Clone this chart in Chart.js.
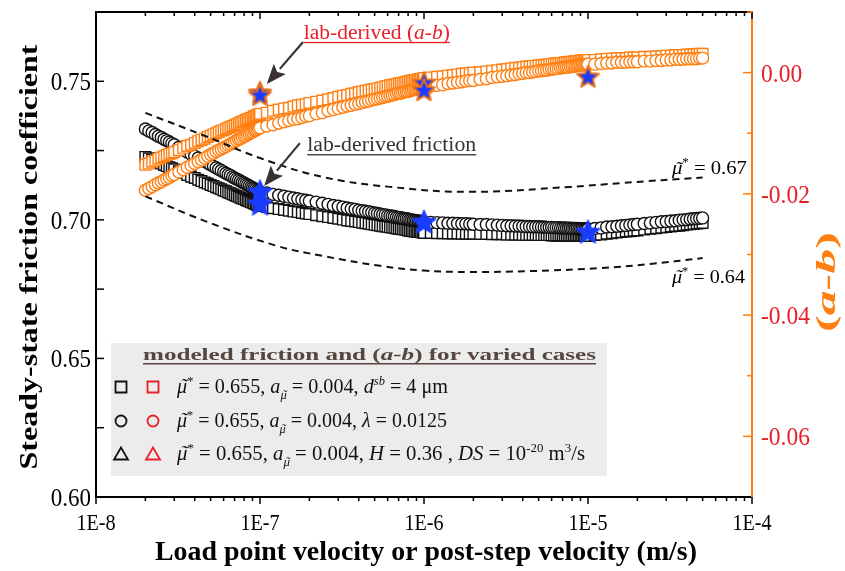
<!DOCTYPE html>
<html lang="en">
<head>
<meta charset="UTF-8">
<title>Steady-state friction and (a-b)</title>
<style>
  html, body { margin: 0; padding: 0; background: #fff; }
  #myChart { display: block; }
</style>
</head>
<body>
<canvas id="myChart" width="845" height="571"></canvas>
<script src="https://cdn.jsdelivr.net/npm/chart.js"></script>
<script>
// load point / post-step velocity (m/s), shared by the four modeled series
const velocity = [
  2e-8,2.1e-8,2.2e-8,2.3e-8,2.4e-8,2.5e-8,2.6e-8,2.7e-8,2.8e-8,2.9e-8,3e-8,3.2e-8,3.4e-8,3.6e-8,3.8e-8,4e-8,4.2e-8,4.4e-8,4.6e-8,4.8e-8,
  5e-8,5.2e-8,5.4e-8,5.6e-8,5.8e-8,6e-8,6.2e-8,6.4e-8,6.6e-8,6.8e-8,7e-8,7.2e-8,7.4e-8,7.6e-8,7.8e-8,8e-8,8.2e-8,8.4e-8,8.6e-8,8.8e-8,
  9e-8,9.2e-8,9.4e-8,9.6e-8,9.8e-8,1e-7,
  1.1e-7,1.2e-7,1.3e-7,1.4e-7,1.5e-7,1.6e-7,1.7e-7,1.8e-7,1.9e-7,2e-7,2.2e-7,2.4e-7,2.6e-7,2.8e-7,3e-7,3.2e-7,3.4e-7,3.6e-7,3.8e-7,4e-7,
  4.2e-7,4.4e-7,4.6e-7,4.8e-7,5e-7,5.2e-7,5.4e-7,5.6e-7,5.8e-7,6e-7,6.2e-7,6.4e-7,6.6e-7,6.8e-7,7e-7,7.2e-7,7.4e-7,7.6e-7,7.8e-7,8e-7,
  8.2e-7,8.4e-7,8.6e-7,8.8e-7,9e-7,9.2e-7,9.4e-7,9.6e-7,9.8e-7,1e-6,
  1.1e-6,1.2e-6,1.3e-6,1.4e-6,1.5e-6,1.6e-6,1.7e-6,1.8e-6,1.9e-6,2e-6,2.2e-6,2.4e-6,2.6e-6,2.8e-6,3e-6,3.2e-6,3.4e-6,3.6e-6,3.8e-6,4e-6,
  4.2e-6,4.4e-6,4.6e-6,4.8e-6,5e-6,5.2e-6,5.4e-6,5.6e-6,5.8e-6,6e-6,6.2e-6,6.4e-6,6.6e-6,6.8e-6,7e-6,7.2e-6,7.4e-6,7.6e-6,7.8e-6,8e-6,
  8.2e-6,8.4e-6,8.6e-6,8.8e-6,9e-6,9.2e-6,9.4e-6,9.6e-6,9.8e-6,1e-5,
  1.1e-5,1.2e-5,1.3e-5,1.4e-5,1.5e-5,1.6e-5,1.7e-5,1.8e-5,1.9e-5,2e-5,2.2e-5,2.4e-5,2.6e-5,2.8e-5,3e-5,3.2e-5,3.4e-5,3.6e-5,3.8e-5,4e-5,
  4.2e-5,4.4e-5,4.6e-5,4.8e-5,5e-5
];

// steady-state friction, d_sb = 4 um case (black squares)
const frictionDsb = [
  .7227,.7222,.7217,.7212,.7207,.7203,.7198,.7194,.7190,.7186,.7182,.7175,.7169,.7162,.7156,.7151,.7145,.7140,.7135,.7131,
  .7126,.7122,.7118,.7114,.7110,.7106,.7103,.7099,.7096,.7092,.7089,.7086,.7083,.7080,.7077,.7075,.7072,.7069,.7067,.7064,
  .7062,.7059,.7057,.7054,.7052,.7050,
  .7046,.7042,.7039,.7036,.7033,.7030,.7028,.7025,.7023,.7021,.7017,.7013,.7010,.7007,.7004,.7001,.6998,.6996,.6994,.6992,
  .6990,.6988,.6986,.6984,.6982,.6981,.6979,.6977,.6976,.6975,.6973,.6972,.6971,.6969,.6968,.6967,.6966,.6965,.6964,.6962,
  .6961,.6960,.6959,.6958,.6957,.6957,.6956,.6955,.6954,.6953,
  .6953,.6952,.6952,.6951,.6951,.6951,.6950,.6950,.6950,.6950,.6949,.6949,.6948,.6948,.6948,.6947,.6947,.6947,.6947,.6946,
  .6946,.6946,.6946,.6946,.6945,.6945,.6945,.6945,.6945,.6944,.6944,.6944,.6944,.6944,.6944,.6944,.6943,.6943,.6943,.6943,
  .6943,.6943,.6943,.6943,.6942,.6942,.6942,.6942,.6942,.6942,
  .6945,.6947,.6950,.6952,.6954,.6956,.6958,.6959,.6961,.6962,.6965,.6968,.6970,.6972,.6974,.6976,.6978,.6979,.6981,.6983,
  .6984,.6985,.6987,.6988,.6989
];

// steady-state friction, lambda = 0.0125 case (black circles)
const frictionLambda = [
  .7328,.7321,.7315,.7308,.7302,.7297,.7291,.7286,.7281,.7276,.7271,.7262,.7253,.7245,.7237,.7230,.7223,.7217,.7211,.7205,
  .7199,.7193,.7188,.7183,.7178,.7173,.7168,.7164,.7160,.7155,.7151,.7147,.7144,.7140,.7136,.7133,.7129,.7126,.7122,.7119,
  .7116,.7113,.7110,.7107,.7104,.7101,
  .7097,.7092,.7089,.7085,.7082,.7079,.7076,.7073,.7071,.7068,.7064,.7060,.7056,.7052,.7049,.7046,.7043,.7040,.7038,.7035,
  .7033,.7031,.7029,.7027,.7025,.7023,.7021,.7019,.7018,.7016,.7015,.7013,.7012,.7010,.7009,.7008,.7006,.7005,.7004,.7003,
  .7001,.7000,.6999,.6998,.6997,.6996,.6995,.6994,.6993,.6992,
  .6991,.6990,.6989,.6988,.6988,.6987,.6986,.6986,.6985,.6984,.6983,.6983,.6982,.6981,.6980,.6979,.6979,.6978,.6978,.6977,
  .6976,.6976,.6975,.6975,.6975,.6974,.6974,.6973,.6973,.6973,.6972,.6972,.6972,.6971,.6971,.6971,.6970,.6970,.6970,.6969,
  .6969,.6969,.6969,.6968,.6968,.6968,.6968,.6967,.6967,.6967,
  .6969,.6971,.6974,.6975,.6977,.6979,.6980,.6982,.6983,.6984,.6987,.6989,.6991,.6993,.6994,.6996,.6997,.6999,.7000,.7001,
  .7003,.7004,.7005,.7006,.7007
];

// (a-b), d_sb = 4 um case (orange squares)
const abDsb = [
  -.0152,-.0150,-.0147,-.0145,-.0142,-.0140,-.0138,-.0136,-.0134,-.0133,-.0131,-.0128,-.0124,-.0121,-.0119,-.0116,-.0113,-.0111,-.0109,-.0106,
  -.0104,-.0102,-.0100,-.0098,-.0096,-.0095,-.0093,-.0091,-.0090,-.0088,-.0087,-.0085,-.0084,-.0082,-.0081,-.0080,-.0078,-.0077,-.0076,-.0075,
  -.0074,-.0072,-.0071,-.0070,-.0069,-.0068,
  -.0066,-.0063,-.0061,-.0059,-.0058,-.0056,-.0054,-.0053,-.0052,-.0050,-.0048,-.0046,-.0044,-.0042,-.0040,-.0038,-.0037,-.0035,-.0034,-.0032,
  -.0031,-.0030,-.0029,-.0028,-.0027,-.0026,-.0025,-.0024,-.0023,-.0022,-.0021,-.0020,-.0020,-.0019,-.0018,-.0017,-.0017,-.0016,-.0015,-.0015,
  -.0014,-.0013,-.0013,-.0012,-.0012,-.0011,-.0011,-.0010,-.0010,-.0009,
  -.0008,-.0007,-.0006,-.0005,-.0004,-.0003,-.0002,-.0001,-.0001,.0000,.0001,.0002,.0003,.0004,.0005,.0006,.0007,.0008,.0008,.0009,
  .0010,.0010,.0011,.0011,.0012,.0012,.0013,.0013,.0014,.0014,.0015,.0015,.0016,.0016,.0016,.0017,.0017,.0017,.0018,.0018,
  .0018,.0019,.0019,.0019,.0020,.0020,.0020,.0020,.0021,.0021,
  .0021,.0022,.0023,.0023,.0024,.0024,.0024,.0025,.0025,.0025,.0026,.0026,.0027,.0027,.0028,.0028,.0029,.0029,.0029,.0030,
  .0030,.0030,.0030,.0031,.0031
];

// (a-b), lambda = 0.0125 case (orange circles)
const abLambda = [
  -.0194,-.0191,-.0188,-.0185,-.0182,-.0180,-.0177,-.0175,-.0173,-.0170,-.0168,-.0164,-.0160,-.0156,-.0153,-.0150,-.0147,-.0144,-.0141,-.0138,
  -.0135,-.0133,-.0130,-.0128,-.0126,-.0124,-.0122,-.0120,-.0118,-.0116,-.0114,-.0112,-.0110,-.0109,-.0107,-.0105,-.0104,-.0102,-.0101,-.0099,
  -.0098,-.0096,-.0095,-.0094,-.0092,-.0091,
  -.0088,-.0086,-.0083,-.0081,-.0079,-.0077,-.0076,-.0074,-.0072,-.0071,-.0068,-.0066,-.0063,-.0061,-.0059,-.0057,-.0055,-.0054,-.0052,-.0051,
  -.0049,-.0048,-.0047,-.0045,-.0044,-.0043,-.0042,-.0041,-.0040,-.0039,-.0038,-.0037,-.0036,-.0035,-.0034,-.0034,-.0033,-.0032,-.0031,-.0031,
  -.0030,-.0029,-.0028,-.0028,-.0027,-.0026,-.0026,-.0025,-.0025,-.0024,
  -.0022,-.0021,-.0020,-.0018,-.0017,-.0016,-.0015,-.0014,-.0013,-.0013,-.0011,-.0010,-.0008,-.0007,-.0006,-.0005,-.0004,-.0003,-.0002,-.0001,
  .0000,.0000,.0001,.0002,.0003,.0003,.0004,.0004,.0005,.0006,.0006,.0007,.0007,.0008,.0008,.0009,.0009,.0009,.0010,.0010,
  .0011,.0011,.0012,.0012,.0012,.0013,.0013,.0013,.0014,.0014,
  .0014,.0015,.0016,.0016,.0017,.0017,.0017,.0018,.0018,.0018,.0019,.0019,.0020,.0020,.0021,.0021,.0022,.0022,.0022,.0023,
  .0023,.0023,.0023,.0024,.0024
];

// dashed reference curves (mu* = 0.67 and mu* = 0.64)
const upperGuideVel = [2e-8, 4.8e-8, 1e-7, 2.4e-7, 6.2e-7, 1.9e-6, 7.8e-6, 1.6e-5, 5e-5];
const upperGuide = [0.7386, 0.7299, 0.7223, 0.7155, 0.7119, 0.7101, 0.7119, 0.7133, 0.7153];
const lowerGuideVel = [2e-8, 4.8e-8, 1.27e-7, 2.4e-7, 5.4e-7, 1e-6, 1.9e-6, 4.4e-6, 1.2e-5, 2.4e-5, 5e-5];
const lowerGuide = [0.7085, 0.6992, 0.6906, 0.6870, 0.6834, 0.6817, 0.6812, 0.6815, 0.6826, 0.6841, 0.6862];

// lab-derived values (blue stars)
const labVel = [1e-7, 1e-7, 1e-6, 1e-5];
const labFriction = [0.7101, 0.7057, 0.6992, 0.6956];
const labAbVel = [1e-7, 1e-7, 1e-6, 1e-6, 1e-5];
const labAb = [-0.0033, -0.0037, -0.0017, -0.0029, -0.0007];

// axis ticks
const xTickValues = [1e-8, 1e-7, 1e-6, 1e-5, 1e-4];
const xTickLabels = ['1E-8', '1E-7', '1E-6', '1E-5', '1E-4'];
const xMinorMult = [2, 3, 4, 5, 6, 7, 8, 9];
const leftTickValues = [0.60, 0.65, 0.70, 0.75];
const leftTickLabels = ['0.60', '0.65', '0.70', '0.75'];
const leftMinor = [0.625, 0.675, 0.725];
const rightTickValues = [0.00, -0.02, -0.04, -0.06];
const rightTickLabels = ['0.00', '-0.02', '-0.04', '-0.06'];
const rightMinor = [0.01, -0.01, -0.03, -0.05];

const SERIF = '"Liberation Serif", "Times New Roman", serif';
const ORANGE = '#ff7f10';
const RED = '#e8202a';
const BLUE = '#1a3cff';
const DARK = '#3a3232';

const pts = (xs, ys) => xs.map((v, i) => ({ x: v, y: ys[i] }));

function starImage(r, fill, stroke, lw) {
  const c = document.createElement('canvas');
  const s = Math.ceil(2 * r + lw + 2);
  c.width = s; c.height = s;
  const g = c.getContext('2d');
  g.translate(s / 2, s / 2 + r * 0.05);
  g.beginPath();
  for (let k = 0; k < 10; k++) {
    const rr = k % 2 ? r * 0.45 : r;
    const a = -Math.PI / 2 + k * Math.PI / 5;
    g.lineTo(rr * Math.cos(a), rr * Math.sin(a));
  }
  g.closePath();
  g.fillStyle = fill;
  g.fill();
  g.lineWidth = lw;
  g.lineJoin = 'round';
  g.strokeStyle = stroke;
  g.stroke();
  return c;
}

function line(ctx, x1, y1, x2, y2, color) {
  ctx.strokeStyle = color;
  ctx.beginPath();
  ctx.moveTo(x1, y1);
  ctx.lineTo(x2, y2);
  ctx.stroke();
}

// text made of pieces (italic, sup, sub, tilde accent), optionally squeezed to a width
function rich(ctx, parts, x, y, o) {
  ctx.save();
  const fontOf = p => {
    const sz = (p.sup || p.sub) ? o.size * 0.62 : o.size;
    return (p.i ? 'italic ' : '') + ((p.b || o.bold) ? 'bold ' : '') + sz + 'px ' + SERIF;
  };
  let total = 0;
  const ws = parts.map(p => {
    ctx.font = fontOf(p);
    const w = ctx.measureText(p.t).width;
    total += w;
    return w;
  });
  const k = o.width ? o.width / total : (o.sx || 1);
  ctx.translate(x, y);
  if (o.rot) ctx.rotate(o.rot);
  ctx.scale(k, 1);
  let cx = o.align === 'center' ? -total / 2 : o.align === 'right' ? -total : 0;
  const x0 = cx;
  ctx.fillStyle = o.color || '#000';
  ctx.textBaseline = 'alphabetic';
  ctx.textAlign = 'left';
  parts.forEach((p, n) => {
    ctx.font = fontOf(p);
    const sz = (p.sup || p.sub) ? o.size * 0.62 : o.size;
    const dy = p.sup ? -o.size * 0.42 : p.sub ? o.size * 0.3 : 0;
    ctx.fillText(p.t, cx, dy);
    if (p.tilde) {
      ctx.textAlign = 'center';
      ctx.fillText('\u02DC', cx + ws[n] / 2 + sz * 0.08, dy + sz * 0.02);
      ctx.textAlign = 'left';
    }
    cx += ws[n];
  });
  if (o.underline) {
    ctx.fillRect(x0, o.ulOff || 3, total, o.ulW || 1.3);
  }
  ctx.restore();
}

function arrow(ctx, x1, y1, x2, y2, color) {
  const ang = Math.atan2(y2 - y1, x2 - x1);
  const L = 20, W = 8;
  const bx = x2 - L * Math.cos(ang), by = y2 - L * Math.sin(ang);
  ctx.lineWidth = 2.2;
  line(ctx, x1, y1, bx, by, color);
  ctx.fillStyle = color;
  ctx.beginPath();
  ctx.moveTo(x2, y2);
  ctx.lineTo(bx + W * Math.sin(ang), by - W * Math.cos(ang));
  ctx.lineTo(bx + 4 * Math.cos(ang), by + 4 * Math.sin(ang));
  ctx.lineTo(bx - W * Math.sin(ang), by + W * Math.cos(ang));
  ctx.closePath();
  ctx.fill();
}

function marker(ctx, type, x, y, color) {
  ctx.save();
  ctx.strokeStyle = color;
  ctx.lineWidth = 1.8;
  ctx.beginPath();
  if (type === 's') ctx.rect(x - 5.5, y - 5.5, 11, 11);
  else if (type === 'c') ctx.arc(x, y, 5.5, 0, 2 * Math.PI);
  else { ctx.moveTo(x, y - 6.5); ctx.lineTo(x + 7, y + 5.5); ctx.lineTo(x - 7, y + 5.5); ctx.closePath(); }
  ctx.stroke();
  ctx.restore();
}

const mu = [{ t: '\u03BC', i: 1, tilde: 1 }, { t: '*', sup: 1 }];
const common = mu.concat([{ t: ' = 0.655, ' }, { t: 'a', i: 1 }, { t: '\u03BC', i: 1, sub: 1, tilde: 1 }, { t: ' = 0.004, ' }]);
const legendRows = [
  { type: 's', parts: common.concat([{ t: 'd', i: 1 }, { t: 'sb', i: 1, sup: 1 }, { t: ' = 4 \u03BCm' }]), width: 271 },
  { type: 'c', parts: common.concat([{ t: '\u03BB', i: 1 }, { t: ' = 0.0125' }]), width: 270 },
  { type: 't', parts: common.concat([{ t: 'H', i: 1 }, { t: ' = 0.36 , ' }, { t: 'DS', i: 1 }, { t: ' = 10' }, { t: '-20', sup: 1 }, { t: ' m' }, { t: '3', sup: 1 }, { t: '/s' }]), width: 408 }
];

const decor = {
  id: 'decor',
  afterDraw(chart) {
    const { ctx, chartArea: a, scales } = chart;
    const sx = scales.x, sy = scales.y, sr = scales.y2;
    ctx.save();

    // frame
    ctx.lineWidth = 2;
    line(ctx, a.left, a.top, a.right, a.top, '#000');
    line(ctx, a.left, a.top - 1, a.left, a.bottom + 1, '#000');
    line(ctx, a.left, a.bottom, a.right, a.bottom, '#000');
    line(ctx, a.right, a.top - 1, a.right, a.bottom + 1, ORANGE);

    // x ticks and labels
    ctx.lineWidth = 1.5;
    xTickValues.forEach((v, k) => {
      const px = sx.getPixelForValue(v);
      line(ctx, px, a.bottom, px, a.bottom + 7, '#000');
      line(ctx, px, a.top, px, a.top + 7, '#000');
      if (k < xTickValues.length - 1) {
        xMinorMult.forEach(m => {
          const p = sx.getPixelForValue(v * m);
          line(ctx, p, a.bottom, p, a.bottom + 4, '#000');
          line(ctx, p, a.top, p, a.top + 4, '#000');
        });
      }
      rich(ctx, [{ t: xTickLabels[k] }], px, a.bottom + 33, { size: 24, sx: 0.84, align: 'center' });
    });

    // left ticks and labels
    leftTickValues.forEach((v, k) => {
      const py = sy.getPixelForValue(v);
      line(ctx, a.left, py, a.left + 8, py, '#000');
      rich(ctx, [{ t: leftTickLabels[k] }], a.left - 5, py + 9, { size: 25, sx: 0.92, align: 'right' });
    });
    leftMinor.forEach(v => {
      const py = sy.getPixelForValue(v);
      line(ctx, a.left, py, a.left + 8, py, '#000');
    });

    // right ticks and labels
    rightTickValues.forEach((v, k) => {
      const py = sr.getPixelForValue(v);
      line(ctx, a.right - 9, py, a.right, py, ORANGE);
      rich(ctx, [{ t: rightTickLabels[k] }], a.right + 9, py + 9, { size: 25, sx: 0.94, color: RED });
    });
    rightMinor.forEach(v => {
      const py = sr.getPixelForValue(v);
      line(ctx, a.right - 5, py, a.right, py, ORANGE);
    });

    // axis titles
    rich(ctx, [{ t: 'Load point velocity or post-step velocity (m/s)' }], 426, 560,
      { size: 27, bold: 1, width: 542, align: 'center' });
    rich(ctx, [{ t: 'Steady-state friction coefficient' }], 37, 257,
      { size: 26, bold: 1, width: 425, align: 'center', rot: -Math.PI / 2 });
    rich(ctx, [{ t: '(' }, { t: 'a-b', i: 1 }, { t: ')' }], 835, 282,
      { size: 28, bold: 1, width: 100, align: 'center', rot: -Math.PI / 2, color: ORANGE });

    // annotations
    arrow(ctx, sx.getPixelForValue(1.83e-7), sy.getPixelForValue(0.7642),
      sx.getPixelForValue(1.10e-7), sy.getPixelForValue(0.7490), DARK);
    arrow(ctx, sx.getPixelForValue(1.75e-7), sy.getPixelForValue(0.7277),
      sx.getPixelForValue(1.06e-7), sy.getPixelForValue(0.7122), DARK);
    rich(ctx, [{ t: 'lab-derived (' }, { t: 'a-b', i: 1 }, { t: ')' }],
      sx.getPixelForValue(1.85e-7), sy.getPixelForValue(0.7653),
      { size: 20, width: 146, color: RED, underline: 1 });
    rich(ctx, [{ t: 'lab-derived friction' }],
      sx.getPixelForValue(1.94e-7), sy.getPixelForValue(0.7248),
      { size: 20, width: 169, color: '#333', underline: 1 });
    rich(ctx, mu.concat([{ t: ' = 0.67' }]), sx.getPixelForValue(3.25e-5), sy.getPixelForValue(0.7165),
      { size: 19, width: 75 });
    rich(ctx, mu.concat([{ t: ' = 0.64' }]), sx.getPixelForValue(3.25e-5), sy.getPixelForValue(0.6772),
      { size: 19, width: 73 });

    // legend box
    ctx.fillStyle = '#ececec';
    ctx.fillRect(111, 343, 496, 133);
    rich(ctx, [{ t: 'modeled friction and (' }, { t: 'a-b', i: 1 }, { t: ') for varied cases' }], 143, 360,
      { size: 17, bold: 1, width: 453, color: '#56463f', underline: 1, ulOff: 3, ulW: 1.5 });
    const rowBase = [393, 427, 460];
    legendRows.forEach((r, k) => {
      const cy = rowBase[k] - 6;
      marker(ctx, r.type, 121, cy, '#111');
      marker(ctx, r.type, 153, cy, RED);
      rich(ctx, r.parts, 177, rowBase[k], { size: 20, width: r.width, color: '#111' });
    });

    ctx.restore();
  }
};

const ctx = document.querySelector('#myChart').getContext('2d');
const starFr = starImage(13, BLUE, BLUE, 1);
const starAb = starImage(11.5, BLUE, '#e8701a', 2);

const myChart = new Chart(ctx, {
  type: 'scatter',
  data: {
    datasets: [
      { label: 'lab (a-b)', data: pts(labAbVel, labAb), yAxisID: 'y2', pointStyle: starAb, order: 0 },
      { label: 'lab friction', data: pts(labVel, labFriction), yAxisID: 'y', pointStyle: starFr, order: 1 },
      { label: 'mu* = 0.67', data: pts(upperGuideVel, upperGuide), yAxisID: 'y', showLine: true, tension: 0.4,
        borderColor: '#111', borderWidth: 2, borderDash: [7, 5], pointRadius: 0, order: 2 },
      { label: 'mu* = 0.64', data: pts(lowerGuideVel, lowerGuide), yAxisID: 'y', showLine: true, tension: 0.4,
        borderColor: '#111', borderWidth: 2, borderDash: [7, 5], pointRadius: 0, order: 2 },
      { label: '(a-b) lambda', data: pts(velocity, abLambda), yAxisID: 'y2', pointStyle: 'circle', pointRadius: 6,
        borderColor: ORANGE, backgroundColor: '#fff', borderWidth: 1.4, order: 3 },
      { label: '(a-b) dsb', data: pts(velocity, abDsb), yAxisID: 'y2', pointStyle: 'rect', pointRadius: 7.5,
        borderColor: ORANGE, backgroundColor: '#fff', borderWidth: 1.4, order: 4 },
      { label: 'friction lambda', data: pts(velocity, frictionLambda), yAxisID: 'y', pointStyle: 'circle', pointRadius: 6,
        borderColor: '#111', backgroundColor: '#fff', borderWidth: 1.4, order: 5 },
      { label: 'friction dsb', data: pts(velocity, frictionDsb), yAxisID: 'y', pointStyle: 'rect', pointRadius: 7.5,
        borderColor: '#111', backgroundColor: '#fff', borderWidth: 1.4, order: 6 }
    ]
  },
  options: {
    responsive: false,
    devicePixelRatio: 1,
    animation: false,
    layout: { padding: { top: 12, left: 0, right: 0, bottom: 0 } },
    plugins: { legend: { display: false }, tooltip: { enabled: false } },
    scales: {
      x: {
        type: 'logarithmic', position: 'bottom', min: 1e-8, max: 1e-4,
        grid: { display: false, drawTicks: false }, border: { display: false },
        ticks: { display: false },
        afterFit(s) { s.height = 74; }
      },
      y: {
        type: 'linear', position: 'left', min: 0.6, max: 0.775,
        grid: { display: false, drawTicks: false }, border: { display: false },
        ticks: { display: false },
        afterFit(s) { s.width = 96; }
      },
      y2: {
        type: 'linear', position: 'right', min: -0.07, max: 0.01,
        grid: { display: false, drawTicks: false }, border: { display: false },
        ticks: { display: false },
        afterFit(s) { s.width = 93; }
      }
    }
  },
  plugins: [decor]
});
</script>
</body>
</html>
